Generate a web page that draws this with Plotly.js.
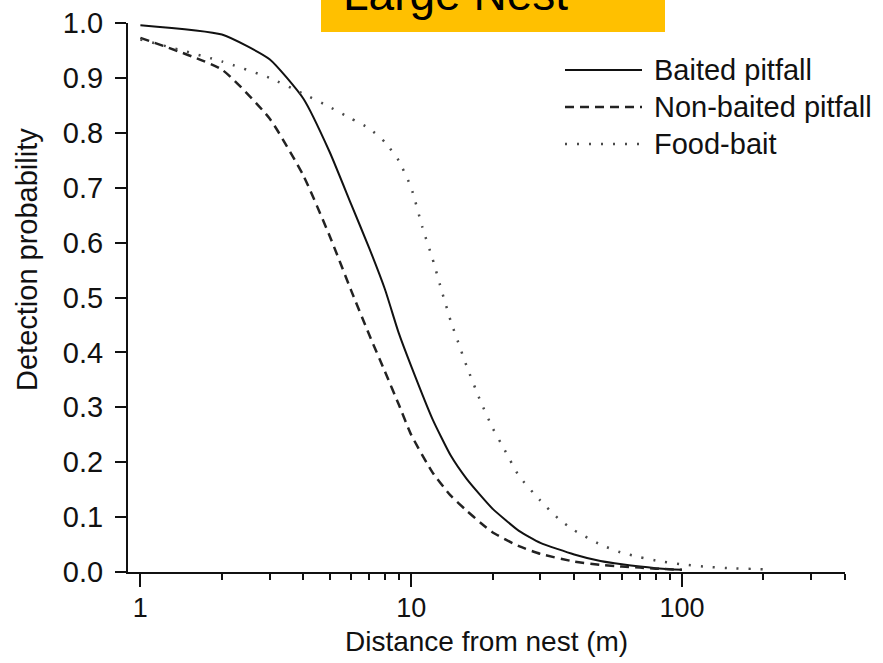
<!DOCTYPE html>
<html>
<head>
<meta charset="utf-8">
<script src="https://cdn.plot.ly/plotly-3.0.1.min.js"></script>
<style>html,body{margin:0;padding:0;background:#fff;}#chart{width:883px;height:663px;}</style>
</head>
<body>
<div id="chart"></div>
<script>
// Distance from nest (m)
const baitedX = [1, 2, 3, 4, 5, 6, 7, 8, 9, 10, 12, 14, 16, 18, 20, 25, 30, 40, 50, 60, 70, 80, 90, 100];
const baitedY = [0.996, 0.979, 0.934, 0.862, 0.765, 0.670, 0.590, 0.515, 0.435, 0.375, 0.278, 0.212, 0.170, 0.140, 0.115, 0.075, 0.053, 0.032, 0.020, 0.014, 0.010, 0.007, 0.005, 0.004];

const nonBaitedX = [1, 2, 3, 4, 5, 6, 7, 8, 9, 10, 12, 14, 16, 18, 20, 25, 30, 40, 50, 60, 70, 80, 100];
const nonBaitedY = [0.973, 0.915, 0.826, 0.722, 0.612, 0.513, 0.432, 0.365, 0.305, 0.250, 0.181, 0.139, 0.112, 0.090, 0.072, 0.047, 0.033, 0.019, 0.013, 0.010, 0.008, 0.006, 0.004];

const foodBaitX = [1, 2, 3, 4, 5, 6, 7, 8, 9, 10, 11, 12, 13, 14, 15, 16, 18, 20, 22, 25, 30, 35, 40, 50, 60, 70, 80, 100, 120, 150, 200];
const foodBaitY = [0.970, 0.930, 0.900, 0.871, 0.847, 0.826, 0.808, 0.783, 0.749, 0.700, 0.628, 0.570, 0.510, 0.457, 0.415, 0.376, 0.312, 0.262, 0.225, 0.175, 0.130, 0.097, 0.076, 0.050, 0.035, 0.027, 0.021, 0.014, 0.010, 0.007, 0.005];

const seriesNames = ["Baited pitfall", "Non-baited pitfall", "Food-bait"];
const yTickVals = [0, 0.1, 0.2, 0.3, 0.4, 0.5, 0.6, 0.7, 0.8, 0.9, 1.0];
const xMajorTicks = [1, 10, 100];
const xMajorLabels = ["1", "10", "100"];
const xMinorTicks = [2, 3, 4, 5, 6, 7, 8, 9, 20, 30, 40, 50, 60, 70, 80, 90, 200, 300, 400];
const chartTitle = "Large Nest";
const xTitle = "Distance from nest (m)";
const yTitle = "Detection probability";

const FONT = "Arial, 'Liberation Sans', sans-serif";

const lineStyles = [
  {color: "#111111", width: 2, dash: "solid"},
  {color: "#222222", width: 2.5, dash: "9px,6px"},
  {color: "#4a4a4a", width: 2.5, dash: "2px,10px"}
];

const traces = [
  {x: baitedX, y: baitedY, name: seriesNames[0], mode: "lines", line: Object.assign({shape: "spline", smoothing: 0.5}, lineStyles[0])},
  {x: nonBaitedX, y: nonBaitedY, name: seriesNames[1], mode: "lines", line: Object.assign({shape: "spline", smoothing: 0.5}, lineStyles[1])},
  {x: foodBaitX, y: foodBaitY, name: seriesNames[2], mode: "lines", line: Object.assign({shape: "spline", smoothing: 0.5}, lineStyles[2])}
].map(t => Object.assign(t, {showlegend: false, hoverinfo: "skip"}));

// Manual legend (paper coordinates)
const plotL = 128, plotT = 23, plotW = 717, plotH = 549;
const px2x = px => (px - plotL) / plotW;
const py2y = py => (plotT + plotH - py) / plotH;
const legendRows = [70, 107, 144];

const shapes = [
  {type: "rect", xref: "paper", yref: "paper", x0: px2x(321), x1: px2x(665), y0: py2y(32), y1: py2y(-10),
   fillcolor: "#FFC000", line: {width: 0}, layer: "above"}
];
const annotations = [
  {text: chartTitle, xref: "paper", yref: "paper", x: px2x(341), y: py2y(22), xanchor: "left", yanchor: "bottom",
   showarrow: false, font: {family: FONT, size: 46, color: "#000"}},
  {text: xTitle, xref: "paper", yref: "paper", x: 0.5, y: py2y(641), xanchor: "center", yanchor: "middle",
   showarrow: false, font: {family: FONT, size: 28, color: "#111"}},
  {text: yTitle, xref: "paper", yref: "paper", x: px2x(27), y: py2y(260), xanchor: "center", yanchor: "middle",
   textangle: -90, showarrow: false, font: {family: FONT, size: 29, color: "#111"}}
];
seriesNames.forEach((n, i) => {
  shapes.push({type: "line", xref: "paper", yref: "paper", x0: px2x(565), x1: px2x(642),
    y0: py2y(legendRows[i]), y1: py2y(legendRows[i]), line: lineStyles[i]});
  annotations.push({text: n, xref: "paper", yref: "paper", x: px2x(652), y: py2y(legendRows[i]),
    xanchor: "left", yanchor: "middle", showarrow: false, font: {family: FONT, size: 29, color: "#111"}});
});

const layout = {
  width: 883, height: 663,
  margin: {l: plotL, r: 883 - plotL - plotW, t: plotT, b: 663 - plotT - plotH, pad: 0},
  paper_bgcolor: "#fff", plot_bgcolor: "#fff",
  font: {family: FONT, size: 29, color: "#111"},
  showlegend: false,
  xaxis: {
    type: "log", range: [Math.log10(0.9), Math.log10(400)],
    tickmode: "array", tickvals: xMajorTicks, ticktext: xMajorLabels,
    tickfont: {family: FONT, size: 27, color: "#111"},
    ticks: "outside", ticklen: 13, tickwidth: 2, tickcolor: "#111",
    showline: true, linecolor: "#111", linewidth: 2, showgrid: false, zeroline: false,
    ticklabelstandoff: -2,
    minor: {tickmode: "array", tickvals: xMinorTicks, ticks: "outside", ticklen: 6, tickwidth: 2, tickcolor: "#111", showgrid: false}
  },
  yaxis: {
    range: [0, 1], tickmode: "array", tickvals: yTickVals, ticktext: yTickVals.map(v => v.toFixed(1)),
    ticks: "outside", ticklen: 11, tickwidth: 2, tickcolor: "#111",
    showline: true, linecolor: "#111", linewidth: 2, showgrid: false, zeroline: false,
    ticklabelstandoff: 6
  },
  shapes: shapes,
  annotations: annotations
};

Plotly.newPlot("chart", traces, layout, {displayModeBar: false, staticPlot: true});
</script>
</body>
</html>
